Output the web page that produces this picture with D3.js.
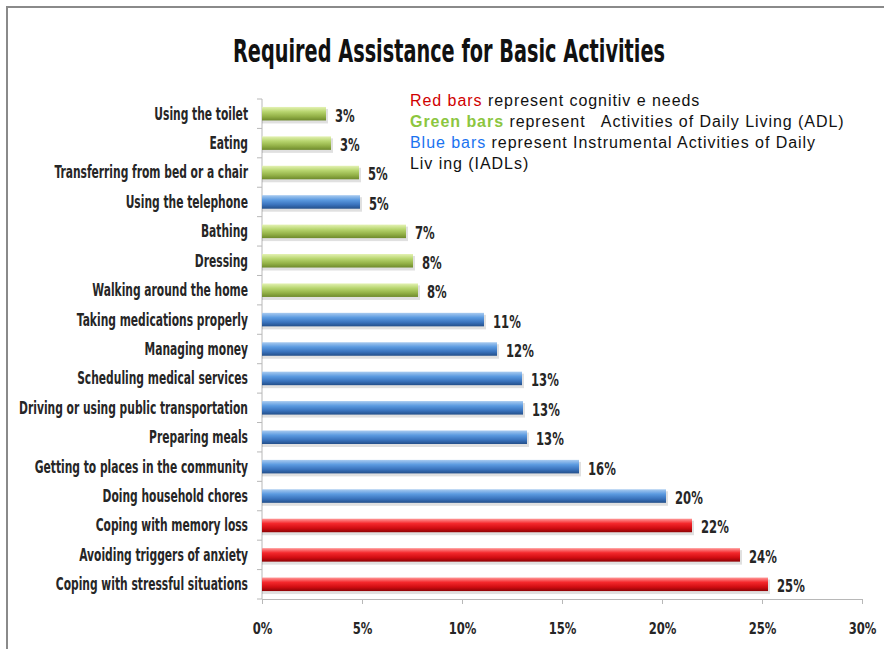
<!DOCTYPE html>
<html>
<head>
<meta charset="utf-8">
<script src="https://cdn.jsdelivr.net/npm/d3@7"></script>
<style>
  body { margin: 0; background: #fff; }
  svg { display: block; }
  .lbl { font-family: "DejaVu Sans Condensed", "Liberation Sans", sans-serif; font-weight: bold; fill: #262626; }
  .legend { font-family: "Liberation Sans", Arial, sans-serif; font-size: 16px; letter-spacing: 0.95px; fill: #111; }
</style>
</head>
<body>
<script>
// Data
const categories = [
  "Using the toilet",
  "Eating",
  "Transferring from bed or a chair",
  "Using the telephone",
  "Bathing",
  "Dressing",
  "Walking around the home",
  "Taking medications properly",
  "Managing money",
  "Scheduling medical services",
  "Driving or using public transportation",
  "Preparing meals",
  "Getting to places in the community",
  "Doing household chores",
  "Coping with memory loss",
  "Avoiding triggers of anxiety",
  "Coping with stressful situations",
];
const values = [3.2, 3.45, 4.85, 4.9, 7.2, 7.55, 7.8, 11.1, 11.75, 13.0, 13.05, 13.25, 15.85, 20.2, 21.5, 23.9, 25.3];
const valueLabels = ["3%", "3%", "5%", "5%", "7%", "8%", "8%", "11%", "12%", "13%", "13%", "13%", "16%", "20%", "22%", "24%", "25%"];
// g = ADL (green), b = IADL (blue), r = cognitive (red)
const groups = ["g", "g", "g", "b", "g", "g", "g", "b", "b", "b", "b", "b", "b", "b", "r", "r", "r"];
const xTicks = [0, 5, 10, 15, 20, 25, 30];

const W = 884, H = 649;
const svg = d3.select("body").append("svg").attr("width", W).attr("height", H);

// squeeze bold labels horizontally to mimic the narrow original font
function narrow(sel, k) {
  sel.each(function () {
    const w = this.getComputedTextLength();
    d3.select(this).attr("textLength", w * k).attr("lengthAdjust", "spacingAndGlyphs");
  });
}

// frame (only top and left edges show in the picture)
svg.append("line").attr("x1", 6).attr("x2", W).attr("y1", 7).attr("y2", 7)
  .attr("stroke", "#8a8a8a").attr("stroke-width", 2);
svg.append("line").attr("x1", 7).attr("x2", 7).attr("y1", 6).attr("y2", H)
  .attr("stroke", "#8a8a8a").attr("stroke-width", 2);

// gradients for the glossy bars
const palette = {
  g: ["#e4f2b4", "#b7d56e", "#93b147", "#6e8a2c"],
  b: ["#a9cbf0", "#5b9ae0", "#3a73bd", "#234f8a"],
  r: ["#ff9a9a", "#f4282c", "#d10d12", "#8e0306"],
};
const defs = svg.append("defs");
Object.entries(palette).forEach(([k, c]) => {
  const lg = defs.append("linearGradient").attr("id", "grad-" + k)
    .attr("x1", 0).attr("y1", 0).attr("x2", 0).attr("y2", 1);
  lg.append("stop").attr("offset", "0%").attr("stop-color", c[0]);
  lg.append("stop").attr("offset", "35%").attr("stop-color", c[1]);
  lg.append("stop").attr("offset", "70%").attr("stop-color", c[2]);
  lg.append("stop").attr("offset", "100%").attr("stop-color", c[3]);
});

const x = d3.scaleLinear().domain([0, 30]).range([262, 862]);
const y = d3.scaleBand().domain(categories).range([99, 599]).paddingInner(0.54).paddingOuter(0.27);

// title
const title = svg.append("text").attr("class", "lbl")
  .attr("x", 449).attr("y", 62)
  .attr("text-anchor", "middle")
  .style("font-size", "32px")
  .style("fill", "#111")
  .text("Required Assistance for Basic Activities");
title.attr("textLength", 432).attr("lengthAdjust", "spacingAndGlyphs");

// x axis
const xAxis = svg.append("g")
  .attr("transform", "translate(0,599)")
  .call(d3.axisBottom(x).tickValues(xTicks).tickFormat((d) => d + "%").tickSize(5).tickSizeOuter(0));
xAxis.select(".domain").attr("stroke", "#b8b8b8");
xAxis.selectAll(".tick line").attr("stroke", "#b8b8b8");
xAxis.selectAll(".tick text").attr("class", "lbl").attr("dy", "0")
  .attr("y", 35).style("font-size", "16.5px").call(narrow, 0.78);

// y axis line and ticks at band boundaries
const yAxis = svg.append("g");
yAxis.append("line").attr("x1", x(0)).attr("x2", x(0)).attr("y1", 99).attr("y2", 599)
  .attr("stroke", "#b8b8b8");
d3.range(categories.length + 1).forEach((i) => {
  const yy = 99 + i * (500 / categories.length);
  yAxis.append("line").attr("x1", x(0) - 5).attr("x2", x(0)).attr("y1", yy).attr("y2", yy)
    .attr("stroke", "#b8b8b8");
});

// category labels
svg.selectAll(".cat").data(categories).enter().append("text")
  .attr("class", "lbl")
  .attr("x", 248)
  .attr("y", (d) => y(d) + y.bandwidth() / 2)
  .attr("dy", "0.35em")
  .attr("text-anchor", "end")
  .style("font-size", "17px")
  .text((d) => d)
  .call(narrow, 0.7);

// bar shadows
svg.selectAll(".shadow").data(categories).enter().append("rect")
  .attr("x", x(0))
  .attr("y", (d) => y(d) + 2)
  .attr("width", (d, i) => x(values[i]) - x(0) + 2)
  .attr("height", y.bandwidth() + 1)
  .attr("fill", "#000")
  .attr("opacity", 0.12);

// bars
svg.selectAll(".bar").data(categories).enter().append("rect")
  .attr("class", "bar")
  .attr("x", x(0))
  .attr("y", (d) => y(d))
  .attr("width", (d, i) => x(values[i]) - x(0))
  .attr("height", y.bandwidth())
  .attr("fill", (d, i) => "url(#grad-" + groups[i] + ")");

// value labels
svg.selectAll(".val").data(categories).enter().append("text")
  .attr("class", "lbl")
  .attr("x", (d, i) => x(values[i]) + 9)
  .attr("y", (d) => y(d) + y.bandwidth() / 2 + 2)
  .attr("dy", "0.35em")
  .style("font-size", "17px")
  .text((d, i) => valueLabels[i])
  .call(narrow, 0.76);

// legend text
const legend = svg.append("g").attr("class", "legend");
const l1 = legend.append("text").attr("x", 410).attr("y", 106);
l1.append("tspan").style("fill", "#d00000").text("Red bars");
l1.append("tspan").text(" represent cognitiv e needs");
const l2 = legend.append("text").attr("x", 410).attr("y", 127);
l2.append("tspan").style("fill", "#8cc63f").style("font-weight", "bold").text("Green bars");
l2.append("tspan").attr("xml:space", "preserve").text(" represent   Activities of Daily Living (ADL)");
const l3 = legend.append("text").attr("x", 410).attr("y", 148);
l3.append("tspan").style("fill", "#1a73f0").text("Blue bars");
l3.append("tspan").text(" represent Instrumental Activities of Daily");
legend.append("text").attr("x", 410).attr("y", 169).text("Liv ing (IADLs)");
</script>
</body>
</html>
